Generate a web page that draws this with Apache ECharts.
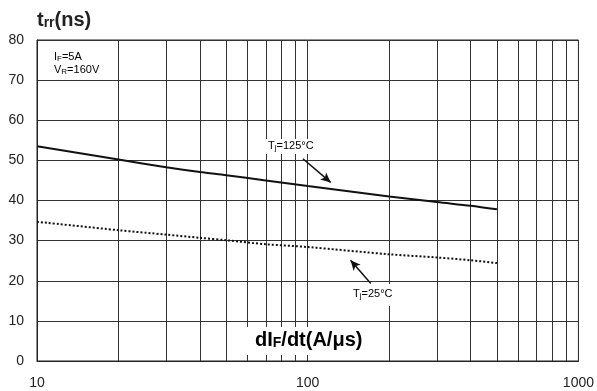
<!DOCTYPE html>
<html>
<head>
<meta charset="UTF-8">
<title>trr vs dIF/dt</title>
<script src="https://cdn.jsdelivr.net/npm/echarts@6/dist/echarts.min.js"></script>
<style>
	html, body { margin: 0; padding: 0; background: #fff; }
	#chart { width: 597px; height: 391px; }
</style>
</head>
<body>
	<div id="chart"></div>
	<script>
	// values
	var dIF = [ 10, 20, 30, 40, 50, 70, 100, 200, 300, 400, 500 ];
	var trr125 = [ 53.5, 50.2, 48.3, 47.1, 46.3, 45.0, 43.6, 41.0, 39.6, 38.7, 37.8 ];
	var trr25 = [ 34.7, 32.6, 31.5, 30.7, 30.1, 29.1, 28.4, 26.6, 25.8, 25.1, 24.4 ];
	// minor vertical grid lines of the log axis
	var xGrid = [ 20, 30, 40, 50, 60, 70, 80, 90, 200, 300, 400, 500, 600, 700, 800, 900 ];
	var xTicks = [ 10, 100, 1000 ];
	// annotation arrows (data coords): tail -> head
	var arrow125 = [ [ 96, 50.4 ], [ 121.6, 44.5 ] ];
	var arrow25 = [ [ 171, 19.3 ], [ 144, 25.1 ] ];

	var FONT = "'Liberation Sans', Arial, sans-serif";
	var INK = '#222';

	function pairs(xs, ys) {
	    return xs.map(function(x, i) {
		return [ x, ys[i] ];
	    });
	}

	var chart = echarts.init(document.getElementById('chart'));
	var option = {
	    animation : false,
	    grid : {
		left : 37,
		right : 17,
		top : 40,
		bottom : 30,
		show : true,
		borderColor : '#222',
		borderWidth : 1
	    },
	    xAxis : {
		type : 'log',
		logBase : 10,
		min : 10,
		max : 1000,
		axisLine : { lineStyle : { color : '#222' } },
		axisTick : { show : false },
		splitLine : { show : true, lineStyle : { color : '#333', width : 1 } },
		axisLabel : {
		    color : INK, fontSize : 14, fontFamily : FONT, margin : 15,
		    formatter : function(v) {
			return xTicks.indexOf(Math.round(v)) >= 0 ? String(Math.round(v)) : '';
		    }
		}
	    },
	    yAxis : {
		type : 'value',
		min : 0,
		max : 80,
		interval : 10,
		axisLine : { show : true, lineStyle : { color : '#222' } },
		axisTick : { show : false },
		splitLine : { show : true, lineStyle : { color : '#333', width : 1 } },
		axisLabel : { color : INK, fontSize : 14, fontFamily : FONT, margin : 13 }
	    },
	    series : [ {
		name : 'Tj=125°C',
		type : 'line',
		data : pairs(dIF, trr125),
		smooth : 0.3,
		showSymbol : false,
		lineStyle : { color : '#111', width : 2 },
		z : 3,
		markLine : {
		    silent : true,
		    symbol : 'none',
		    label : { show : false },
		    lineStyle : { type : 'solid', color : '#333', width : 1 },
		    z : 1,
		    data : xGrid.map(function(v) {
			return { xAxis : v };
		    })
		}
	    }, {
		name : 'Tj=25°C',
		type : 'line',
		data : pairs(dIF, trr25),
		smooth : 0.3,
		showSymbol : false,
		lineStyle : { color : '#111', width : 2, type : [ 2, 2 ] },
		z : 3,
		markLine : {
		    silent : true,
		    symbol : [ 'none', 'arrow' ],
		    symbolSize : [ 7, 10 ],
		    label : { show : false },
		    lineStyle : { type : 'solid', color : '#111', width : 1.5 },
		    data : [ [ { coord : arrow125[0] }, { coord : arrow125[1] } ],
			     [ { coord : arrow25[0] }, { coord : arrow25[1] } ] ]
		}
	    } ],
	    graphic : [
		// y axis title
		{
		    type : 'text', z : 101, x : 37, y : 20,
		    style : {
			text : '{a|t}{b|rr}{a|(ns)}',
			verticalAlign : 'middle',
			rich : {
			    a : { fontSize : 20, fontWeight : 'bold', fontFamily : FONT, fill : INK, color : INK },
			    b : { fontSize : 14, fontWeight : 'bold', fontFamily : FONT, fill : INK, color : INK, padding : [ 7, 0, 0, 0 ] }
			}
		    }
		},
		// test conditions
		{
		    type : 'text', z : 101, x : 54, y : 57,
		    style : {
			text : '{a|I}{b|F}{a|=5A}',
			verticalAlign : 'middle',
			rich : {
			    a : { fontSize : 11, fontFamily : FONT, color : INK },
			    b : { fontSize : 8, fontFamily : FONT, color : INK, padding : [ 3, 0, 0, 0 ] }
			}
		    }
		},
		{
		    type : 'text', z : 101, x : 54, y : 70,
		    style : {
			text : '{a|V}{b|R}{a|=160V}',
			verticalAlign : 'middle',
			rich : {
			    a : { fontSize : 11, fontFamily : FONT, color : INK },
			    b : { fontSize : 8, fontFamily : FONT, color : INK, padding : [ 3, 0, 0, 0 ] }
			}
		    }
		},
		// curve labels
		{ type : 'rect', z : 100, shape : { x : 266, y : 139, width : 51, height : 15 }, style : { fill : '#fff' } },
		{
		    type : 'text', z : 101, x : 268, y : 146,
		    style : {
			text : '{a|T}{b|j}{a|=125°C}',
			verticalAlign : 'middle',
			rich : {
			    a : { fontSize : 11, fontFamily : FONT, color : INK },
			    b : { fontSize : 8, fontFamily : FONT, color : INK, padding : [ 3, 0, 0, 0 ] }
			}
		    }
		},
		{ type : 'rect', z : 100, shape : { x : 350, y : 284, width : 48, height : 22 }, style : { fill : '#fff' } },
		{
		    type : 'text', z : 101, x : 353, y : 294,
		    style : {
			text : '{a|T}{b|j}{a|=25°C}',
			verticalAlign : 'middle',
			rich : {
			    a : { fontSize : 11, fontFamily : FONT, color : INK },
			    b : { fontSize : 8, fontFamily : FONT, color : INK, padding : [ 3, 0, 0, 0 ] }
			}
		    }
		},
		// x axis title
		{ type : 'rect', z : 100, shape : { x : 242, y : 327, width : 136, height : 28 }, style : { fill : '#fff' } },
		{
		    type : 'text', z : 101, x : 255, y : 340,
		    style : {
			text : '{a|dI}{b|F}{a|/dt(A/μs)}',
			verticalAlign : 'middle',
			rich : {
			    a : { fontSize : 20, fontWeight : 'bold', fontFamily : FONT, color : INK },
			    b : { fontSize : 14, fontWeight : 'bold', fontFamily : FONT, color : INK, padding : [ 6, 0, 0, 0 ] }
			}
		    }
		}
	    ]
	};
	chart.setOption(option);
    </script>
</body>
</html>
